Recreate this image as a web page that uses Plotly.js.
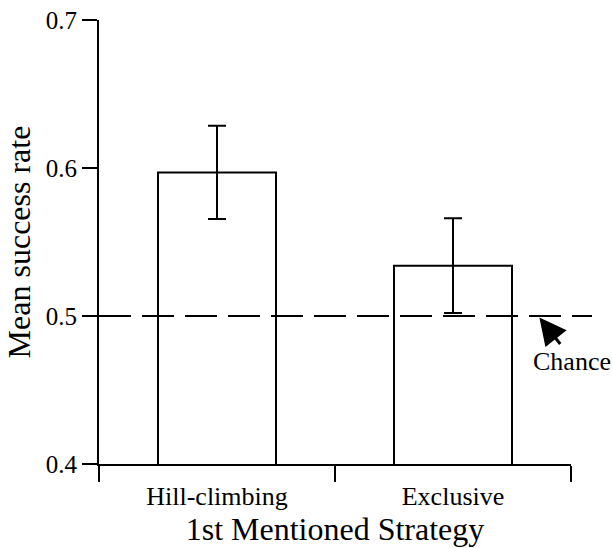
<!DOCTYPE html>
<html>
<head>
<meta charset="utf-8">
<script src="https://cdn.plot.ly/plotly-3.0.1.min.js"></script>
<style>html,body{margin:0;padding:0;background:#fff;}#chart{width:612px;height:548px;}</style>
</head>
<body>
<div id="chart"></div>
<script>
var categories = ["Hill-climbing", "Exclusive"];
var meanSuccess = [0.597, 0.534];
var errorSE = [0.0315, 0.032];
var yTickVals = [0.4, 0.5, 0.6, 0.7];
var yTickText = ["0.4", "0.5", "0.6", "0.7"];
var chanceLevel = 0.5;
var chanceLabel = "Chance";

var FONT = "Liberation Serif, Times New Roman, serif";

var trace = {
  type: "bar",
  x: categories,
  y: meanSuccess,
  width: 0.5,
  marker: {color: "white", line: {color: "black", width: 2}},
  error_y: {type: "data", array: errorSE, visible: true, color: "black", thickness: 2, width: 9},
  hoverinfo: "none"
};

var layout = {
  width: 612, height: 548,
  margin: {l: 99, r: 41, t: 20, b: 84},
  paper_bgcolor: "white", plot_bgcolor: "white",
  showlegend: false,
  font: {family: FONT, color: "black"},
  xaxis: {
    type: "category",
    range: [-0.5, 1.5],
    tickson: "boundaries",
    ticks: "outside", ticklen: 16, tickwidth: 2, tickcolor: "black",
    ticklabelstandoff: 8,
    showline: true, linecolor: "black", linewidth: 2,
    showgrid: false, zeroline: false,
    tickfont: {family: FONT, size: 26, color: "black"},
    title: {text: "1st Mentioned Strategy", font: {family: FONT, size: 32, color: "black"}, standoff: 6}
  },
  yaxis: {
    range: [0.4, 0.7],
    tickvals: yTickVals, ticktext: yTickText,
    ticks: "outside", ticklen: 15, tickwidth: 2, tickcolor: "black",
    showline: true, linecolor: "black", linewidth: 2,
    showgrid: false, zeroline: false,
    tickfont: {family: FONT, size: 25, color: "black"},
    title: {text: "Mean success rate", font: {family: FONT, size: 32, color: "black"}, standoff: 6}
  },
  shapes: [{
    type: "line", xref: "paper", yref: "y",
    x0: 0, x1: 1.0445, y0: chanceLevel, y1: chanceLevel,
    line: {color: "black", width: 2, dash: "32px,11px"}
  }],
  annotations: [
    {
      xref: "paper", yref: "y", x: 0.933, y: chanceLevel - 0.001,
      ax: 22, ay: 28, axref: "pixel", ayref: "pixel",
      showarrow: true, arrowhead: 2, arrowsize: 1.8, arrowwidth: 3, arrowcolor: "black",
      text: ""
    },
    {
      xref: "paper", yref: "y", x: 1.0015, y: 0.469,
      showarrow: false, text: chanceLabel,
      font: {family: FONT, size: 26, color: "black"},
      xanchor: "center", yanchor: "middle"
    }
  ]
};

Plotly.newPlot("chart", [trace], layout, {displayModeBar: false, staticPlot: true});
</script>
</body>
</html>
